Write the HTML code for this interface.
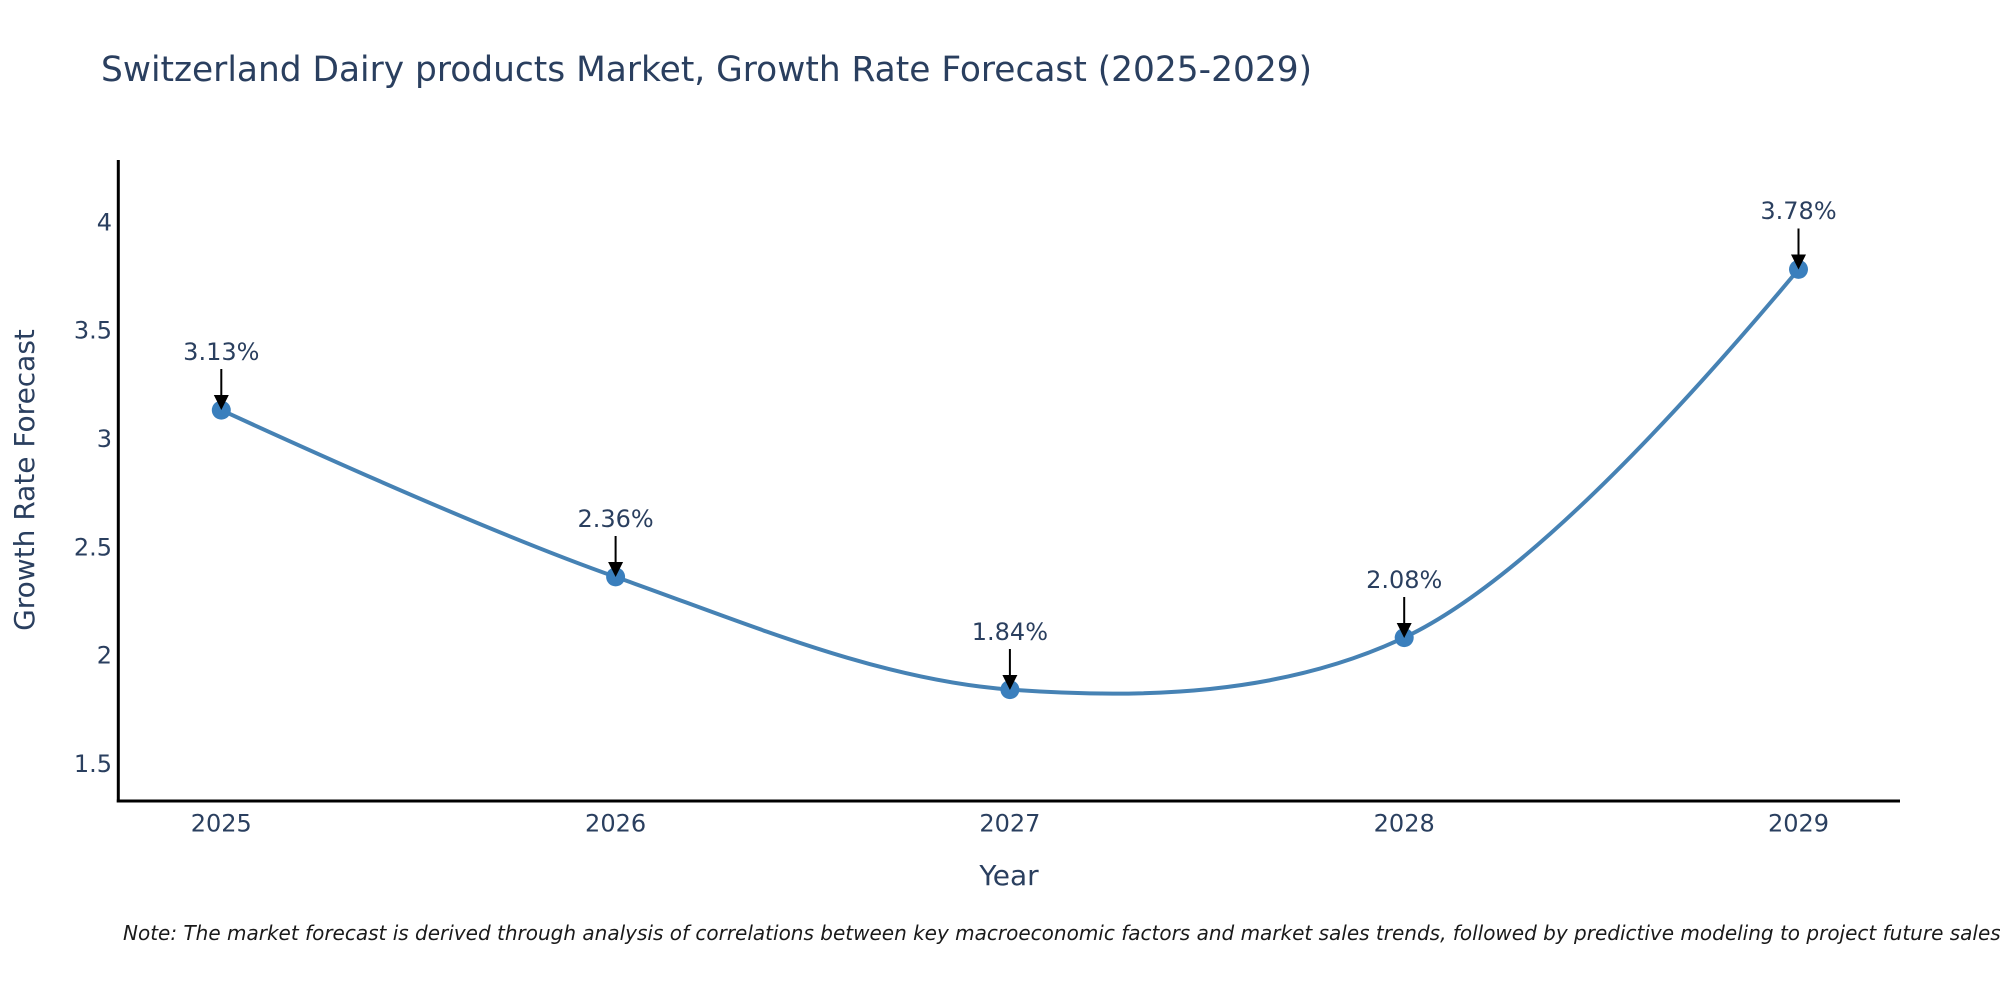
<!DOCTYPE html>
<html>
<head>
<meta charset="utf-8">
<style>
  html, body { margin: 0; padding: 0; background: #ffffff; }
  svg { display: block; }
  text { font-family: "DejaVu Sans", "Liberation Sans", sans-serif; }
</style>
</head>
<body>
<svg width="2000" height="1000" viewBox="0 0 2000 1000" xmlns="http://www.w3.org/2000/svg">
  <rect x="0" y="0" width="2000" height="1000" fill="#ffffff"/>

  <!-- Title -->
  <text x="101" y="81" font-size="34.4" fill="#2a3f5f" textLength="1211" lengthAdjust="spacingAndGlyphs">Switzerland Dairy products Market, Growth Rate Forecast (2025-2029)</text>

  <!-- Axes -->
  <line x1="118.3" y1="160" x2="118.3" y2="802.5" stroke="#000" stroke-width="3"/>
  <line x1="116.8" y1="801" x2="1900" y2="801" stroke="#000" stroke-width="3"/>

  <!-- Y tick labels -->
  <g font-size="24" fill="#2a3f5f" text-anchor="end">
    <text x="112" y="230.4">4</text>
    <text x="112" y="338.7">3.5</text>
    <text x="112" y="447">3</text>
    <text x="112" y="555.3">2.5</text>
    <text x="112" y="663.6">2</text>
    <text x="112" y="771.9">1.5</text>
  </g>

  <!-- X tick labels -->
  <g font-size="24" fill="#2a3f5f" text-anchor="middle">
    <text x="221.3" y="831.5">2025</text>
    <text x="615.6" y="831.5">2026</text>
    <text x="1009.9" y="831.5">2027</text>
    <text x="1404.2" y="831.5">2028</text>
    <text x="1798.5" y="831.5">2029</text>
  </g>

  <!-- Axis titles -->
  <text x="1009" y="885" font-size="28" fill="#2a3f5f" text-anchor="middle">Year</text>
  <text x="0" y="0" font-size="28" fill="#2a3f5f" text-anchor="middle" transform="translate(34,480) rotate(-90)">Growth Rate Forecast</text>

  <!-- Spline line -->
  <path d="M221.3,410.1 Q482.72,530.0 615.6,576.9 C745.65,622.8 877.45,679.83 1009.9,689.6 C1140.34,699.22 1281.35,695.61 1404.2,637.6 Q1547.28,570.04 1798.5,269.4"
        fill="none" stroke="#4682b4" stroke-width="4" stroke-linejoin="round" stroke-linecap="round"/>

  <!-- Markers -->
  <g fill="#3a7fbd">
    <circle cx="221.3" cy="410.1" r="9.5"/>
    <circle cx="615.6" cy="576.9" r="9.5"/>
    <circle cx="1009.9" cy="689.6" r="9.5"/>
    <circle cx="1404.2" cy="637.6" r="9.5"/>
    <circle cx="1798.5" cy="269.4" r="9.5"/>
  </g>

  <!-- Annotations -->
  <g stroke="#000" stroke-width="2">
    <line x1="221.3" y1="369" x2="221.3" y2="397"/>
    <line x1="615.6" y1="536" x2="615.6" y2="564"/>
    <line x1="1009.9" y1="649" x2="1009.9" y2="677"/>
    <line x1="1404.2" y1="597" x2="1404.2" y2="625"/>
    <line x1="1798.5" y1="228.5" x2="1798.5" y2="256.5"/>
  </g>
  <g fill="#000">
    <polygon points="213.8,395 228.8,395 221.3,410"/>
    <polygon points="608.1,562 623.1,562 615.6,577"/>
    <polygon points="1002.4,675 1017.4,675 1009.9,690"/>
    <polygon points="1396.7,623 1411.7,623 1404.2,638"/>
    <polygon points="1791,254.5 1806,254.5 1798.5,269.5"/>
  </g>
  <g font-size="24" fill="#2a3f5f" text-anchor="middle">
    <text x="221.3" y="360">3.13%</text>
    <text x="615.6" y="527">2.36%</text>
    <text x="1009.9" y="640">1.84%</text>
    <text x="1404.2" y="588">2.08%</text>
    <text x="1798.5" y="219">3.78%</text>
  </g>

  <!-- Note -->
  <text x="123" y="940" font-size="20" font-style="italic" fill="#1a1a1a">Note: The market forecast is derived through analysis of correlations between key macroeconomic factors and market sales trends, followed by predictive modeling to project future sales.</text>
</svg>
</body>
</html>
